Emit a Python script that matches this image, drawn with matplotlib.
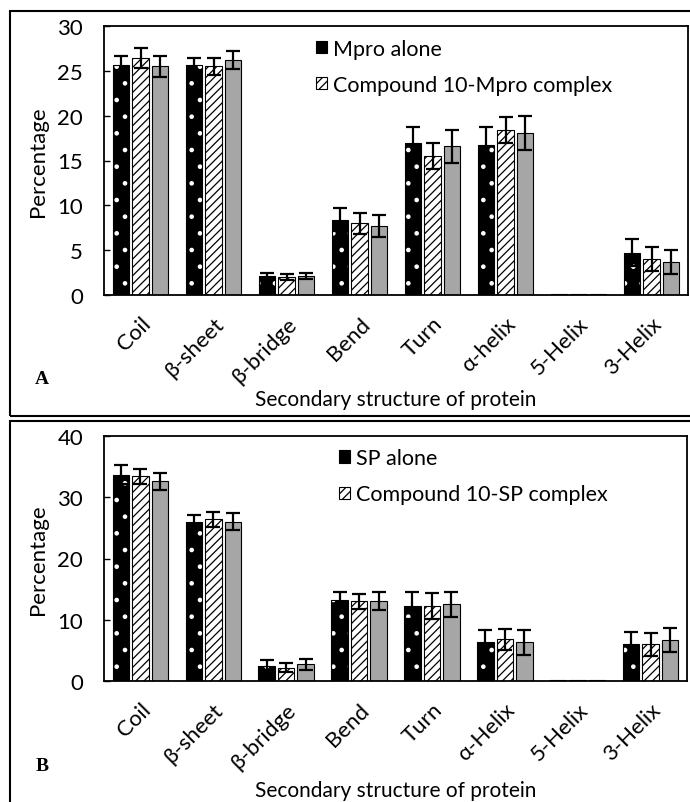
import numpy as np
import matplotlib
matplotlib.use("Agg")
import matplotlib.pyplot as plt
from matplotlib.patches import Rectangle

plt.rcParams['font.family'] = ['Lato', 'DejaVu Sans']
plt.rcParams['hatch.linewidth'] = 0.9

# secondary structure content (%) with standard deviations
cats_mpro = ['Coil', 'β-sheet', 'β-bridge', 'Bend', 'Turn', 'α-helix', '5-Helix', '3-Helix']
mpro_alone = [25.6, 25.6, 2.1, 8.4, 16.9, 16.7, 0.1, 4.7]
mpro_alone_sd = [1.1, 0.85, 0.3, 1.25, 1.8, 2.0, 0, 1.5]
mpro_cpd = [26.4, 25.5, 2.0, 8.0, 15.5, 18.4, 0.1, 4.0]
mpro_cpd_sd = [1.1, 0.95, 0.3, 1.15, 1.5, 1.5, 0, 1.3]
mpro_ref = [25.5, 26.2, 2.1, 7.7, 16.6, 18.1, 0.1, 3.7]
mpro_ref_sd = [1.2, 1.0, 0.3, 1.25, 1.85, 1.9, 0, 1.35]

cats_sp = ['Coil', 'β-sheet', 'β-bridge', 'Bend', 'Turn', 'α-Helix', '5-Helix', '3-Helix']
sp_alone = [33.7, 25.9, 2.5, 13.3, 12.3, 6.3, 0.2, 6.0]
sp_alone_sd = [1.55, 1.25, 0.95, 1.3, 2.15, 2.0, 0, 1.95]
sp_cpd = [33.4, 26.4, 2.2, 13.0, 12.3, 6.8, 0.1, 6.0]
sp_cpd_sd = [1.25, 1.2, 0.75, 1.25, 2.1, 1.75, 0, 1.9]
sp_ref = [32.6, 26.0, 2.7, 13.1, 12.5, 6.3, 0.1, 6.7]
sp_ref_sd = [1.4, 1.35, 0.95, 1.5, 2.05, 2.1, 0, 1.9]

fig = plt.figure(figsize=(6.9, 8.03), dpi=100)

# panel frames
fig.add_artist(Rectangle((10/690, 1-417/803), 700/690, 405/803, transform=fig.transFigure,
                         fill=False, edgecolor='black', lw=1.5))
fig.add_artist(Rectangle((10/690, -20/803), 700/690, 401/803, transform=fig.transFigure,
                         fill=False, edgecolor='black', lw=1.5))


def panel(ax, cats, series, ymax, ystep, labels, leg_x, leg_y):
    x = np.arange(len(cats))
    w = 0.226
    pitch = 0.267
    ek = dict(ecolor='black', elinewidth=1.6, capsize=5, capthick=1.6)
    a, a_sd = series[0]
    c, c_sd = series[1]
    r, r_sd = series[2]
    # black bars with white dots
    ax.bar(x - pitch, a, w, color='black', edgecolor='white', hatch='.', lw=0, label=labels[0])
    ax.bar(x - pitch, a, w, fill=False, edgecolor='black', lw=0.8)
    # hatched bars
    ax.bar(x, c, w, color='white', edgecolor='black', hatch='////', lw=0.8, label=labels[1])
    # grey bars
    ax.bar(x + pitch, r, w, color='#a6a6a6', edgecolor='black', lw=0.8)
    for off, v, sd in [(-pitch, a, a_sd), (0, c, c_sd), (pitch, r, r_sd)]:
        sd = np.array(sd)
        m = sd > 0
        ax.errorbar((x + off)[m], np.array(v)[m], yerr=sd[m], fmt='none', **ek)
    ax.set_xlim(-0.5, len(cats) - 0.5)
    ax.set_ylim(0, ymax)
    ax.set_yticks(np.arange(0, ymax + 1, ystep))
    ax.tick_params(axis='y', direction='in', length=4.5, width=1, labelsize=16, pad=15)
    ax.tick_params(axis='x', length=0, labelsize=16, pad=13)
    ax.set_xticks(x)
    ax.set_xticklabels(cats, rotation=45, ha='right', va='top', rotation_mode='anchor')
    for s in ax.spines.values():
        s.set_linewidth(1.3)
    ax.set_ylabel('Percentage', fontsize=16, labelpad=7)
    ax.set_xlabel('Secondary structure of protein', fontsize=15)
    leg = ax.legend(loc='upper left', bbox_to_anchor=(leg_x, leg_y), frameon=False,
                    fontsize=15.5, handlelength=0.5, handleheight=0.5, handletextpad=0.3,
                    labelspacing=0.75, borderpad=0, borderaxespad=0)
    for h in leg.legend_handles:
        h.set_linewidth(0.8)
        h.set_edgecolor('black')
    return ax


axA = fig.add_axes([104/690, 1-296/803, 584/690, 269/803])
panel(axA, cats_mpro,
      [(mpro_alone, mpro_alone_sd), (mpro_cpd, mpro_cpd_sd), (mpro_ref, mpro_ref_sd)],
      30, 5, ['Mpro alone', 'Compound 10-Mpro complex'], 0.363, 0.953)
axA.xaxis.set_label_coords(0.5, -0.348)

axB = fig.add_axes([104/690, 1-682/803, 583/690, 245/803])
panel(axB, cats_sp,
      [(sp_alone, sp_alone_sd), (sp_cpd, sp_cpd_sd), (sp_ref, sp_ref_sd)],
      40, 10, ['SP alone', 'Compound 10-SP complex'], 0.403, 0.95)
axB.xaxis.set_label_coords(0.5, -0.405)

fig.text(42/690, 1-380/803, 'A', fontsize=14, fontweight='bold', family='Liberation Serif',
         ha='center', va='center')
fig.text(42/690, 1-767/803, 'B', fontsize=14, fontweight='bold', family='Liberation Serif',
         ha='center', va='center')

fig.savefig('out.png', dpi=100)
